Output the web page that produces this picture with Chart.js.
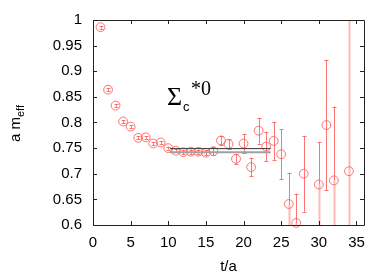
<!DOCTYPE html>
<html>
<head>
<meta charset="utf-8">
<script src="https://cdn.jsdelivr.net/npm/chart.js@4.4.0/dist/chart.umd.min.js"></script>
<style>
  html, body { margin: 0; padding: 0; background: #fff; }
  #wrap { width: 392px; height: 274px; }
</style>
</head>
<body>
<div id="wrap"><canvas id="meffChart"></canvas></div>
<script>
// effective mass data
var tValues = [1, 2, 3, 4, 5, 6, 7, 8, 9, 10, 11, 12, 13, 14, 15, 16, 17, 18, 19, 20, 21, 22, 23, 24, 25, 26, 27, 28, 30, 31, 32, 34];
var meffValues = [0.986, 0.864, 0.833, 0.802, 0.792, 0.770, 0.771, 0.759, 0.761, 0.750, 0.745, 0.742, 0.743, 0.743, 0.741, 0.744, 0.765, 0.758, 0.729, 0.759, 0.713, 0.784, 0.753, 0.764, 0.738, 0.641, 0.604, 0.700, 0.679, 0.795, 0.687, 0.705];
var meffErrors = [0.003, 0.003, 0.003, 0.003, 0.003, 0.003, 0.003, 0.003, 0.003, 0.003, 0.003, 0.004, 0.004, 0.004, 0.005, 0.008, 0.009, 0.010, 0.009, 0.019, 0.018, 0.025, 0.029, 0.037, 0.049, 0.061, 0.057, 0.074, 0.083, 0.127, 0.144, 0.33];

// plateau fit
var fitRange = [10.2, 23.6];
var fitValue = 0.749;
var fitLower = 0.742;

var xTicks = [0, 5, 10, 15, 20, 25, 30, 35];
var yTicks = [0.6, 0.65, 0.7, 0.75, 0.8, 0.85, 0.9, 0.95, 1];

var redLine = 'rgba(255,90,90,0.85)';
var pinkLine = 'rgba(255,160,160,0.75)';

function pts(xs, ys){
	var out = [];
	for (var i = 0; i < xs.length; i++) out.push({x: xs[i], y: ys[i]});
	return out;
}

function seg(ctx, px, y1, y2, color, width){
	ctx.lineWidth = width;
	ctx.strokeStyle = color;
	ctx.beginPath();
	ctx.moveTo(px, y1);
	ctx.lineTo(px, y2);
	ctx.stroke();
}

// error bars, drawn under the circles; the part running off the frame is paler
var errorBars = {
	id: 'errorBars',
	beforeDatasetsDraw: function(chart){
		var ctx = chart.ctx, xs = chart.scales.x, ys = chart.scales.y, a = chart.chartArea;
		ctx.save();
		ctx.beginPath();
		ctx.rect(a.left, a.top, a.right - a.left, a.bottom - a.top);
		ctx.clip();
		for (var i = 0; i < tValues.length; i++) {
			var px = Math.round(xs.getPixelForValue(tValues[i])) + 0.5;
			var lo = meffValues[i] - meffErrors[i], hi = meffValues[i] + meffErrors[i];
			var pLo = ys.getPixelForValue(lo), pHi = ys.getPixelForValue(hi), pMid = ys.getPixelForValue(meffValues[i]);
			var loOut = lo < ys.min, hiOut = hi > ys.max;
			seg(ctx, px, pMid, pLo, loOut ? pinkLine : redLine, loOut ? 2 : 1);
			seg(ctx, px, pMid, pHi, hiOut ? pinkLine : redLine, hiOut ? 2 : 1);
			ctx.lineWidth = 1;
			ctx.strokeStyle = redLine;
			ctx.beginPath();
			if (!loOut) { ctx.moveTo(px - 2, Math.round(pLo) + 0.5); ctx.lineTo(px + 2, Math.round(pLo) + 0.5); }
			if (!hiOut) { ctx.moveTo(px - 2, Math.round(pHi) + 0.5); ctx.lineTo(px + 2, Math.round(pHi) + 0.5); }
			ctx.stroke();
		}
		ctx.restore();
	}
};

// gnuplot style frame: box plus inward ticks on all four sides, and the text
var frame = {
	id: 'frame',
	afterDraw: function(chart){
		var ctx = chart.ctx, xs = chart.scales.x, ys = chart.scales.y, a = chart.chartArea;
		ctx.save();
		ctx.strokeStyle = '#222';
		ctx.lineWidth = 1;
		ctx.beginPath();
		ctx.rect(Math.round(a.left) + 0.5, Math.round(a.top) + 0.5, Math.round(a.right - a.left), Math.round(a.bottom - a.top));
		ctx.stroke();
		ctx.beginPath();
		xTicks.forEach(function(v){
			var px = Math.round(xs.getPixelForValue(v)) + 0.5;
			ctx.moveTo(px, a.bottom); ctx.lineTo(px, a.bottom - 4);
			ctx.moveTo(px, a.top); ctx.lineTo(px, a.top + 4);
		});
		yTicks.forEach(function(v){
			var py = Math.round(ys.getPixelForValue(v)) + 0.5;
			ctx.moveTo(a.left, py); ctx.lineTo(a.left + 4, py);
			ctx.moveTo(a.right, py); ctx.lineTo(a.right - 4, py);
		});
		ctx.stroke();

		ctx.fillStyle = '#000';
		// x title
		ctx.font = '15px "Liberation Sans", Arial, sans-serif';
		ctx.textAlign = 'center';
		ctx.textBaseline = 'alphabetic';
		ctx.fillText('t/a', (a.left + a.right) / 2, 271);

		// y title, rotated, with subscript
		ctx.save();
		ctx.translate(20, (a.top + a.bottom) / 2 + 1);
		ctx.rotate(-Math.PI / 2);
		ctx.textAlign = 'left';
		var main = 'a m', sub = 'eff';
		ctx.font = '15px "Liberation Sans", Arial, sans-serif';
		var w1 = ctx.measureText(main).width;
		ctx.font = '11px "Liberation Sans", Arial, sans-serif';
		var w2 = ctx.measureText(sub).width;
		var x0 = -(w1 + w2) / 2;
		ctx.font = '15px "Liberation Sans", Arial, sans-serif';
		ctx.fillText(main, x0, 0);
		ctx.font = '11px "Liberation Sans", Arial, sans-serif';
		ctx.fillText(sub, x0 + w1, 4);
		ctx.restore();

		// state label
		ctx.textAlign = 'left';
		ctx.font = '26px "Liberation Serif", "Times New Roman", serif';
		ctx.fillText('\u03A3', 167, 105);
		ctx.font = '13px "Liberation Sans", Arial, sans-serif';
		ctx.fillText('c', 183, 111);
		ctx.font = '20px "Liberation Serif", "Times New Roman", serif';
		ctx.fillText('*0', 191, 95);
		ctx.restore();
	}
};

var ctx = document.getElementById('meffChart');
var chart = new Chart(ctx, {
	type: 'scatter',
	data: {
		datasets: [{
			label: 'fit lower',
			type: 'line',
			data: pts(fitRange, [fitLower, fitLower]),
			borderColor: '#a0a0a0',
			borderWidth: 2,
			pointRadius: 0,
			fill: false
		}, {
			label: 'fit',
			type: 'line',
			data: pts(fitRange, [fitValue, fitValue]),
			borderColor: '#333',
			borderWidth: 1,
			pointRadius: 0,
			fill: false
		}, {
			label: 'a m_eff',
			data: pts(tValues, meffValues),
			pointStyle: 'circle',
			pointRadius: 4.4,
			pointBorderWidth: 1,
			pointBorderColor: redLine,
			pointBackgroundColor: 'rgba(0,0,0,0)',
			clip: 6
		}]
	},
	options: {
		responsive: true,
		maintainAspectRatio: false,
		animation: false,
		events: [],
		layout: {
			padding: { left: 0, right: 28, top: 19, bottom: 0 }
		},
		plugins: {
			legend: { display: false },
			tooltip: { enabled: false }
		},
		scales: {
			x: {
				type: 'linear',
				min: 0,
				max: 36,
				afterBuildTicks: function(scale){ scale.ticks = xTicks.map(function(v){ return {value: v}; }); },
				afterFit: function(scale){ scale.height = 49; },
				grid: { display: false, drawTicks: false },
				border: { display: false },
				ticks: {
					padding: 9,
					color: '#000',
					font: { family: '"Liberation Sans", Arial, sans-serif', size: 15 },
					maxRotation: 0,
					callback: function(v){ return String(v); }
				}
			},
			y: {
				type: 'linear',
				min: 0.6,
				max: 1,
				afterBuildTicks: function(scale){ scale.ticks = yTicks.map(function(v){ return {value: v}; }); },
				afterFit: function(scale){ scale.width = 93; },
				grid: { display: false, drawTicks: false },
				border: { display: false },
				ticks: {
					padding: 11,
					color: '#000',
					font: { family: '"Liberation Sans", Arial, sans-serif', size: 15 },
					callback: function(v){ return String(+v.toFixed(2)); }
				}
			}
		}
	},
	plugins: [errorBars, frame]
});
</script>
</body>
</html>
